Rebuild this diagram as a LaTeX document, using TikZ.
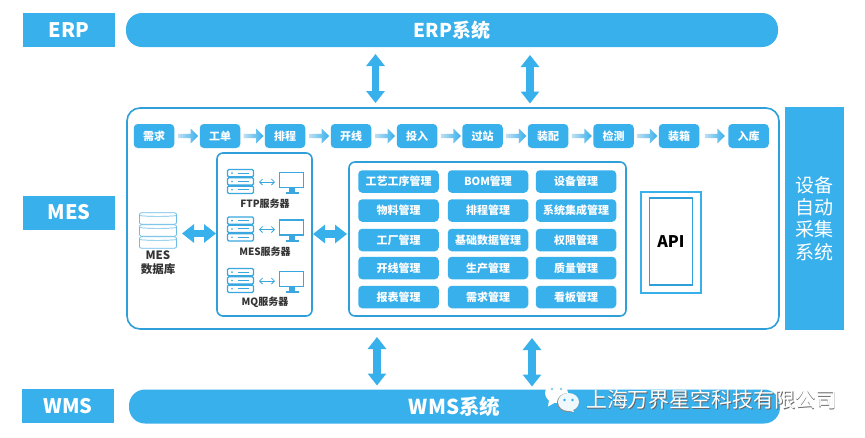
\documentclass[tikz,border=0pt]{standalone}
\usepackage{fontspec}
\setmainfont{Noto Sans CJK SC}
\usetikzlibrary{arrows.meta,shapes.arrows,calc}
\definecolor{barblue}{HTML}{38B0EC}
\definecolor{lineblue}{HTML}{2E9FD8}
\definecolor{pale}{HTML}{BDDFF3}
\definecolor{iconblue}{HTML}{3AA7DF}
\newcommand{\fs}[1]{\fontsize{#1}{#1}\selectfont}
\tikzset{
  x=1pt,y=-1pt,
  sz/.style 2 args={minimum width=#1pt,minimum height=#2pt,inner sep=0pt,outer sep=0pt},
  labelbox/.style={fill=barblue,text=white,font=\fs{20}\bfseries,sz={92}{34}},
  sysbar/.style={fill=barblue,text=white,font=\fs{19}\bfseries,rounded corners=16pt,sz={652}{34}},
  flowbox/.style={fill=barblue,text=white,font=\fs{11}\bfseries,rounded corners=4pt,sz={40.5}{24}},
  cellbox/.style={fill=barblue,text=white,font=\fs{11}\bfseries,rounded corners=4pt,sz={80.5}{22.5}},
  frame/.style={draw=lineblue,line width=1.6pt,fill=white},
  flowarrow/.style={single arrow,single arrow head extend=3pt,minimum width=15pt,minimum height=20pt,inner sep=1pt,outer sep=0pt,left color=pale,right color=barblue,draw=none,single arrow tip angle=90},
  blockarrow/.style={draw=barblue,line width=7.5pt,{Triangle[length=12pt,width=18pt,fill=barblue]}-{Triangle[length=12pt,width=18pt,fill=barblue]}},
  darktext/.style={text=black!80,font=\fs{10}\bfseries,inner sep=0pt},
  iconline/.style={draw=iconblue,line width=1.3pt},
  thinarrow/.style={draw=iconblue,line width=0.8pt,{Straight Barb[length=3pt,width=6pt]}-{Straight Barb[length=3pt,width=6pt]}},
}
\newcommand{\serverrow}[3]{%
  \begin{scope}[shift={(227,#2)}]
    \foreach \r in {0,8.3,16.6}{
      \draw[iconline,rounded corners=1.2pt,fill=white] (0.5,\r+0.5) rectangle (26.5,\r+7.8);
      \fill[iconblue] (5,\r+4.1) circle (0.9);
      \draw[iconblue,line width=1pt] (11,\r+4.1) -- (22,\r+4.1);
    }
    \coordinate (#1l) at (32,13);
    \coordinate (#1r) at (48,13);
    \draw[thinarrow] (#1l) -- (#1r);
    \draw[iconline] (52.5,3.5) rectangle (76.5,18.5);
    \fill[iconblue] (62,19) rectangle (68,23.5);
    \fill[iconblue] (58.5,23) rectangle (71.5,25);
  \end{scope}
}
\begin{document}
\begin{tikzpicture}
\useasboundingbox (0,0) rectangle (865,437);
\fill[white] (0,0) rectangle (865,437);

% left labels and bars
\node[labelbox] (erplab) at (69,30) {ERP};
\node[labelbox] (meslab) at (69,212.5) {MES};
\node[labelbox] (wmslab) at (68,406) {WMS};
\node[sysbar] (erpbar) at (452,30) {ERP系统};
\node[sysbar,minimum width=651pt,font=\fs{20.5}\bfseries] (wmsbar) at (454.5,406.5) {WMS系统};

% main frame
\node[frame,rounded corners=13pt,sz={652}{221}] (main) at (453,218.5) {};
\node[fill=barblue,text=white,font=\fontsize{19}{22.2}\selectfont,align=center,sz={59}{223}] (equip) at (814.5,218.5) {设备\\自动\\采集\\系统};

% vertical arrows
\coordinate (ua) at (375.5,54); \coordinate (ub) at (375.5,103);
\coordinate (va) at (530,55);   \coordinate (vb) at (530,103.5);
\coordinate (wa) at (377,337);  \coordinate (wb) at (377,385.5);
\coordinate (xa) at (532,338);  \coordinate (xb) at (532,386.5);
\draw[blockarrow] (ua) -- (ub);
\draw[blockarrow] (va) -- (vb);
\draw[blockarrow] (wa) -- (wb);
\draw[blockarrow] (xa) -- (xb);

% flow row
\node[flowbox] (f1) at (154,136) {需求};
\node[flowbox] (f2) at (220,136) {工单};
\node[flowbox] (f3) at (285,136) {排程};
\node[flowbox] (f4) at (351,136) {开线};
\node[flowbox] (f5) at (417,136) {投入};
\node[flowbox] (f6) at (482.5,136) {过站};
\node[flowbox] (f7) at (548,136) {装配};
\node[flowbox] (f8) at (613.5,136) {检测};
\node[flowbox] (f9) at (679,136) {装箱};
\node[flowbox] (f10) at (748.5,136) {入库};
\foreach \a/\b in {f1/f2,f2/f3,f3/f4,f4/f5,f5/f6,f6/f7,f7/f8,f8/f9,f9/f10}
  \node[flowarrow] (\a\b) at ($(\a.east)!.5!(\b.west)$) {};

% database
\foreach \t/\n in {213/a,225/b,237/c}{
  \node[draw=iconblue!75,line width=0.8pt,fill=white,rounded corners=2pt,sz={37}{11.5}] (db\n) at (158,\t+5.5) {};
  \draw[draw=iconblue!75,line width=0.7pt] (140,\t+2.7) .. controls (150,\t+3.6) and (166,\t+3.6) .. (176,\t+2.7);
}
\node[darktext,font=\fs{11.5}\bfseries,align=center,text=black!80] (dbtext) at (158,262.5) {MES\\[2pt]数据库};

% servers
\node[frame,rounded corners=6pt,sz={95}{163}] (srv) at (264.5,234.5) {};
\serverrow{s1}{169}{}
\serverrow{s2}{216.5}{}
\serverrow{s3}{268}{}
\node[darktext] (t1) at (265,204) {FTP服务器};
\node[darktext] (t2) at (265,252) {MES服务器};
\node[darktext] (t3) at (265,302) {MQ服务器};

% management
\node[frame,rounded corners=6pt,sz={277}{154}] (mgmt) at (487.5,239) {};
\node[cellbox] (c11) at (398.5,181.5) {工艺工序管理};
\node[cellbox] (c12) at (488,181.5) {BOM管理};
\node[cellbox] (c13) at (576,181.5) {设备管理};
\node[cellbox] (c21) at (398.5,210.5) {物料管理};
\node[cellbox] (c22) at (488,210.5) {排程管理};
\node[cellbox] (c23) at (576,210.5) {系统集成管理};
\node[cellbox] (c31) at (398.5,240) {工厂管理};
\node[cellbox] (c32) at (488,240) {基础数据管理};
\node[cellbox] (c33) at (576,240) {权限管理};
\node[cellbox] (c41) at (398.5,268) {开线管理};
\node[cellbox] (c42) at (488,268) {生产管理};
\node[cellbox] (c43) at (576,268) {质量管理};
\node[cellbox] (c51) at (398.5,297) {报表管理};
\node[cellbox] (c52) at (488,297) {需求管理};
\node[cellbox] (c53) at (576,297) {看板管理};

% horizontal arrows
\coordinate (ha) at (182,233.5); \coordinate (hb) at (216,233.5);
\coordinate (ia) at (313,234);   \coordinate (ib) at (347,234);
\draw[blockarrow] (ha) -- (hb);
\draw[blockarrow] (ia) -- (ib);

% API
\node[draw=barblue,line width=1.5pt,sz={60}{101}] (apio) at (671,242.5) {};
\node[draw=lineblue,line width=1.5pt,sz={43}{87},font=\fs{16}\bfseries,text=black] (api) at (671,241.5) {API};

% watermark
\begin{scope}
  \fill[white] (556.5,393) ellipse (11.5 and 10);
  \fill[white] (549,400) -- (548,406.5) -- (556,402) -- cycle;
  \fill[iconblue!60] (552,389) circle (1.3);
  \fill[iconblue!60] (561,389) circle (1.3);
  \fill[black!45] (568,402.5) ellipse (11 and 9.5);
  \fill[black!45] (572,408) -- (574,413) -- (566,410) -- cycle;
  \fill[white!92!barblue] (568.5,402) ellipse (10.5 and 9);
  \fill[white!92!barblue] (572,408) -- (574,412) -- (566,410) -- cycle;
  \fill[iconblue] (564.5,400) circle (1.3);
  \fill[iconblue] (572.5,400) circle (1.3);
\end{scope}
\node[text=black!60,font=\fs{20.9},inner sep=0pt] (wmshadow) at (712.3,400.7) {上海万界星空科技有限公司};
\node[text=white,font=\fs{20.9},inner sep=0pt] (wmtext) at (711.5,400) {上海万界星空科技有限公司};
\end{tikzpicture}
\end{document}
